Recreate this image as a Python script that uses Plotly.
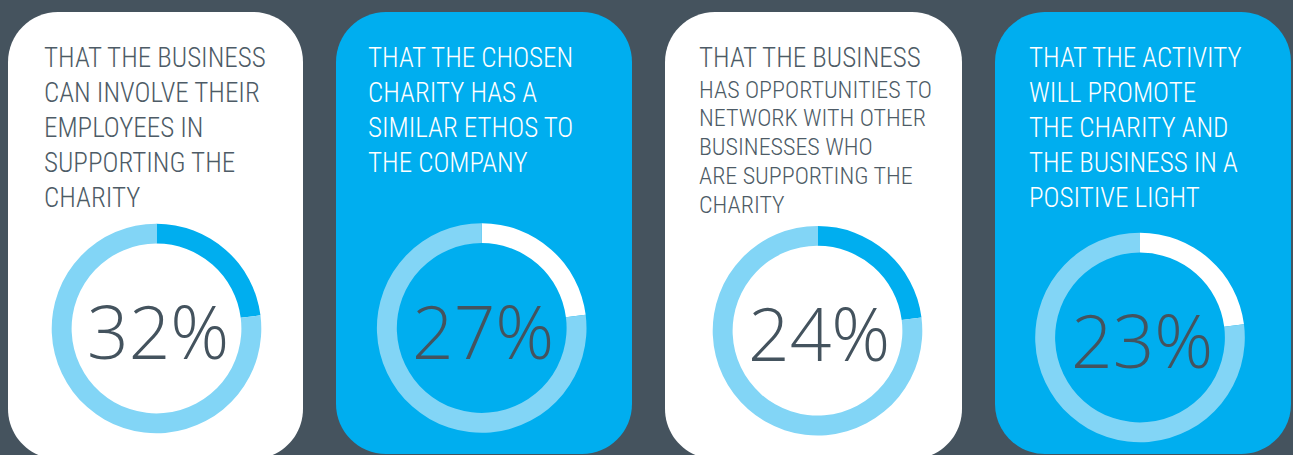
import plotly.graph_objects as go

W, H = 1293, 455

# ---- data ----
card_lines = [
    ["THAT THE BUSINESS", "CAN INVOLVE THEIR", "EMPLOYEES IN", "SUPPORTING THE", "CHARITY"],
    ["THAT THE CHOSEN", "CHARITY HAS A", "SIMILAR ETHOS TO", "THE COMPANY"],
    ["THAT THE BUSINESS", "HAS OPPORTUNITIES TO", "NETWORK WITH OTHER", "BUSINESSES WHO",
     "ARE SUPPORTING THE", "CHARITY"],
    ["THAT THE ACTIVITY", "WILL PROMOTE", "THE CHARITY AND", "THE BUSINESS IN A", "POSITIVE LIGHT"],
]
percent_labels = [32, 27, 24, 23]
arc_shares = [23, 23, 23, 23]   # share of ring drawn highlighted

# ---- styling ----
BG = "#45535e"
BLUE = "#00aeef"
LIGHT = "#82d5f6"
WHITE = "#ffffff"
DARK_TXT = "#4d5b66"
PCT_TXT = "#44535e"

card_fill = [WHITE, BLUE, WHITE, BLUE]
seg_color = [BLUE, WHITE, BLUE, WHITE]
text_color = [DARK_TXT, WHITE, DARK_TXT, WHITE]
card_box = [(8, 12, 303, 459), (336, 12, 632, 454), (665, 12, 962, 459), (995, 12, 1291, 454)]
text_x = [43, 367, 698, 1028]
line_tops = [
    [48.5, 83.5, 118.5, 153.5, 188.5],
    [48.5, 83.5, 118.5, 153.5],
    [48.5, 81, 109.5, 138, 167, 196],
    [48.5, 83.5, 118.5, 153.5, 188.5],
]
line_sizes = [
    [27] * 5,
    [27] * 4,
    [27, 24, 24, 24, 24, 24],
    [27] * 5,
]
ring = [(156.5, 328.5), (481.7, 328), (817.5, 330.7), (1140, 337.5)]
R = 104.8

TXT_FONT = "Roboto Condensed, Roboto, sans-serif"
PCT_FONT = "Open Sans, sans-serif"


def rounded_path(x0, y0, x1, y1, r):
    k = 0.5523 * r
    return (f"M {x0+r},{y0} L {x1-r},{y0} C {x1-r+k},{y0} {x1},{y0+r-k} {x1},{y0+r} "
            f"L {x1},{y1-r} C {x1},{y1-r+k} {x1-r+k},{y1} {x1-r},{y1} "
            f"L {x0+r},{y1} C {x0+r-k},{y1} {x0},{y1-r+k} {x0},{y1-r} "
            f"L {x0},{y0+r} C {x0},{y0+r-k} {x0+r-k},{y0} {x0+r},{y0} Z")


fig = go.Figure()
fig.add_trace(go.Scatter(x=[0, W], y=[0, H], mode="markers", marker=dict(opacity=0),
                         hoverinfo="skip", showlegend=False))

shapes = []
for (x0, y0, x1, y1), fill in zip(card_box, card_fill):
    shapes.append(dict(type="path", xref="x", yref="y", path=rounded_path(x0, y0, x1, y1, 50),
                       fillcolor=fill, line=dict(width=0), layer="below"))

annotations = []
for i in range(4):
    for line, top, sz in zip(card_lines[i], line_tops[i], line_sizes[i]):
        cap = 0.73 * sz
        annotations.append(dict(x=text_x[i], y=top + cap / 2, xref="x", yref="y",
                                text=line, showarrow=False, xanchor="left", yanchor="middle",
                                align="left",
                                font=dict(family=TXT_FONT, size=sz, color=text_color[i], weight=300),
                                borderpad=0))
    cx, cy = ring[i]
    fig.add_trace(go.Pie(
        values=[arc_shares[i], 100 - arc_shares[i]],
        marker=dict(colors=[seg_color[i], LIGHT], line=dict(width=0)),
        hole=0.81, sort=False, direction="clockwise", rotation=0,
        textinfo="none", hoverinfo="skip", showlegend=False,
        domain=dict(x=[(cx - R) / W, (cx + R) / W], y=[1 - (cy + R) / H, 1 - (cy - R) / H]),
    ))
    annotations.append(dict(x=cx + 1.5, y=cy + 2, xref="x", yref="y", text=f"{percent_labels[i]}%",
                            showarrow=False, xanchor="center", yanchor="middle",
                            font=dict(family=PCT_FONT, size=73, color=PCT_TXT, weight=300)))

fig.update_layout(
    width=W, height=H, margin=dict(l=0, r=0, t=0, b=0),
    paper_bgcolor=BG, plot_bgcolor=BG,
    xaxis=dict(range=[0, W], visible=False, fixedrange=True),
    yaxis=dict(range=[H, 0], visible=False, fixedrange=True),
    shapes=shapes, annotations=annotations,
)
post = "document.body.style.margin='0';document.body.style.overflow='hidden';"
fig.write_html("out.html", post_script=post, config={"displayModeBar": False})
